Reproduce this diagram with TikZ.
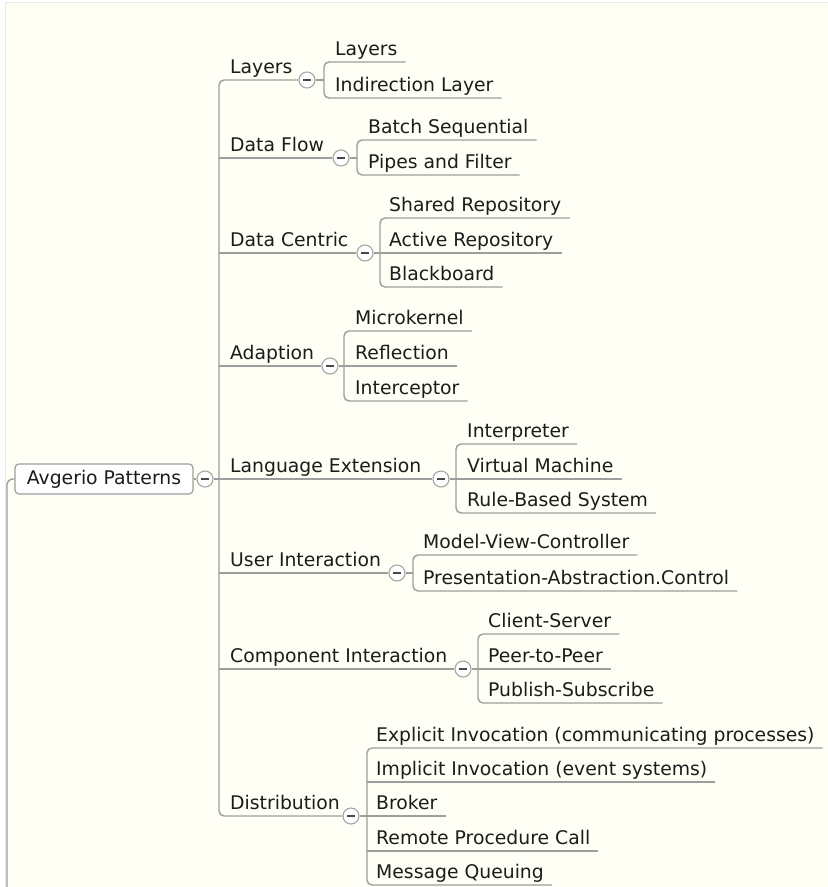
\documentclass[tikz,border=0pt]{standalone}
\usepackage{fontspec}
\setmainfont{DejaVu Sans}
\usetikzlibrary{calc}
\definecolor{paper}{RGB}{255,255,246}
\definecolor{edge}{RGB}{158,158,158}
\definecolor{ink}{RGB}{28,28,28}
\definecolor{ringc}{RGB}{165,165,165}
\definecolor{framec}{RGB}{232,232,232}

\begin{document}
\begin{tikzpicture}[x=1pt,y=-1pt,
  lbl/.style={anchor=base west, inner sep=0pt, text=ink, font=\fontsize{18.8}{22}\selectfont},
  tog/.style={circle, draw=ringc, fill=white, line width=1.1pt, minimum size=16pt, inner sep=0pt,
    path picture={\draw[line width=1.8pt, ink!80]
      ([xshift=-3.8pt]path picture bounding box.center) -- ([xshift=3.8pt]path picture bounding box.center);}},
  link/.style={draw=edge, line width=1.4pt},
  elbow/.style={link, rounded corners=5pt},
  rootbox/.style={draw=edge, fill=white, rounded corners=4pt, line width=1.2pt,
    minimum width=178pt, minimum height=30pt, inner sep=0pt, text=ink,
    font=\fontsize{18.8}{22}\selectfont}
]
\useasboundingbox (0,0) rectangle (828,887);
\fill[white] (0,0) rectangle (828,887);
\fill[paper] (6,3) rectangle (828,887);
\draw[framec, line width=0.8pt] (5.5,887) -- (5.5,2.5) -- (828,2.5);

% root
\node[rootbox] (root) at (104,479) {Avgerio Patterns};
\node[tog] (r0) at (205,479) {};
\draw[link] (root.east) -- (r0.west);
\coordinate (down) at (7,890);
\draw[link, rounded corners=6pt] (root.west) -- (7,479) -- (down);

% first-level topics and their toggles
\node[lbl] (a1) at (230,73)  {Layers};
\node[lbl] (a2) at (230,151) {Data Flow};
\node[lbl] (a3) at (230,246) {Data Centric};
\node[lbl] (a4) at (230,359) {Adaption};
\node[lbl] (a5) at (230,472) {Language Extension};
\node[lbl] (a6) at (230,566) {User Interaction};
\node[lbl] (a7) at (230,662) {Component Interaction};
\node[lbl] (a8) at (230,809) {Distribution};

\node[tog] (c1) at (307,80)  {};
\node[tog] (c2) at (341,158) {};
\node[tog] (c3) at (365,253) {};
\node[tog] (c4) at (330,366) {};
\node[tog] (c5) at (441,479) {};
\node[tog] (c6) at (397,573) {};
\node[tog] (c7) at (463,669) {};
\node[tog] (c8) at (351,816) {};

% trunk
\draw[elbow] (c1.west) -- (219,80) -- (219,816) -- (c8.west);
\draw[link] (219,158) -- (c2.west);
\draw[link] (219,253) -- (c3.west);
\draw[link] (219,366) -- (c4.west);
\draw[link] (r0.east) -- (c5.west);
\draw[link] (219,573) -- (c6.west);
\draw[link] (219,669) -- (c7.west);

% Layers
\node[lbl] (k11) at (335,55) {Layers};
\node[lbl] (k12) at (335,91) {Indirection Layer};
\draw[link] (c1.east) -- (324,80);
\draw[elbow] ($(k11.base east)+(8,7)$) -- (324,62) -- (324,98) -- ($(k12.base east)+(8,7)$);

% Data Flow
\node[lbl] (k21) at (368,133) {Batch Sequential};
\node[lbl] (k22) at (368,168) {Pipes and Filter};
\draw[link] (c2.east) -- (357,158);
\draw[elbow] ($(k21.base east)+(8,7)$) -- (357,140) -- (357,175) -- ($(k22.base east)+(8,7)$);

% Data Centric
\node[lbl] (k31) at (389,211) {Shared Repository};
\node[lbl] (k32) at (389,246) {Active Repository};
\node[lbl] (k33) at (389,280) {Blackboard};
\draw[link] (c3.east) -- ($(k32.base east)+(8,7)$);
\draw[elbow] ($(k31.base east)+(8,7)$) -- (380,218) -- (380,287) -- ($(k33.base east)+(8,7)$);

% Adaption
\node[lbl] (k41) at (355,324) {Microkernel};
\node[lbl] (k42) at (355,359) {Reflection};
\node[lbl] (k43) at (355,394) {Interceptor};
\draw[link] (c4.east) -- ($(k42.base east)+(8,7)$);
\draw[elbow] ($(k41.base east)+(8,7)$) -- (344,331) -- (344,401) -- ($(k43.base east)+(8,7)$);

% Language Extension
\node[lbl] (k51) at (467,437) {Interpreter};
\node[lbl] (k52) at (467,472) {Virtual Machine};
\node[lbl] (k53) at (467,506) {Rule-Based System};
\draw[link] (c5.east) -- ($(k52.base east)+(8,7)$);
\draw[elbow] ($(k51.base east)+(8,7)$) -- (456,444) -- (456,513) -- ($(k53.base east)+(8,7)$);

% User Interaction
\node[lbl] (k61) at (423,548) {Model-View-Controller};
\node[lbl] (k62) at (423,584) {Presentation-Abstraction.Control};
\draw[link] (c6.east) -- (413,573);
\draw[elbow] ($(k61.base east)+(8,7)$) -- (413,555) -- (413,591) -- ($(k62.base east)+(8,7)$);

% Component Interaction
\node[lbl] (k71) at (488,627) {Client-Server};
\node[lbl] (k72) at (488,662) {Peer-to-Peer};
\node[lbl] (k73) at (488,696) {Publish-Subscribe};
\draw[link] (c7.east) -- ($(k72.base east)+(8,7)$);
\draw[elbow] ($(k71.base east)+(8,7)$) -- (478,634) -- (478,703) -- ($(k73.base east)+(8,7)$);

% Distribution
\node[lbl] (k81) at (376,741) {Explicit Invocation (communicating processes)};
\node[lbl] (k82) at (376,775) {Implicit Invocation (event systems)};
\node[lbl] (k83) at (376,809) {Broker};
\node[lbl] (k84) at (376,844) {Remote Procedure Call};
\node[lbl] (k85) at (376,878) {Message Queuing};
\draw[link] (c8.east) -- ($(k83.base east)+(8,7)$);
\draw[link] (367,782) -- ($(k82.base east)+(8,7)$);
\draw[link] (367,851) -- ($(k84.base east)+(8,7)$);
\draw[elbow] ($(k81.base east)+(8,7)$) -- (367,748) -- (367,885) -- ($(k85.base east)+(8,7)$);
\end{tikzpicture}
\end{document}
